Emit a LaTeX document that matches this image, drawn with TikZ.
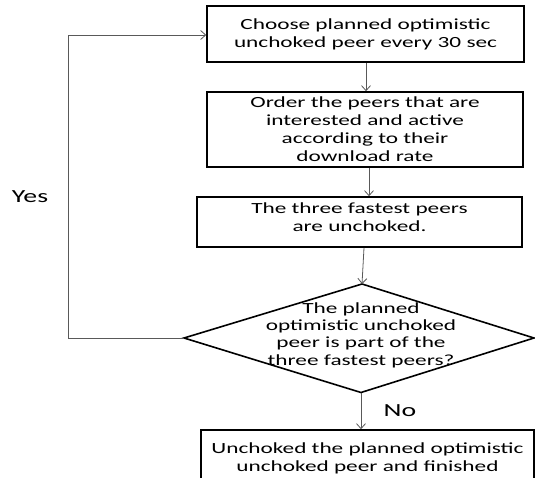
\documentclass[tikz,border=0pt]{standalone}
\usepackage{fontspec}
\setmainfont{Carlito}[FakeStretch=1.5]
\usetikzlibrary{arrows.meta}
\begin{document}
\begin{tikzpicture}[x=1pt,y=-1pt,
  box/.style={draw=black,line width=1.6pt,rectangle,inner sep=0pt,align=center,font=\fontsize{15.5}{18}\selectfont},
  conn/.style={draw=black!65,line width=0.8pt,-{Straight Barb[length=5pt,width=9pt,line width=0.8pt]}},
  lbl/.style={font=\fontsize{18.5}{20}\selectfont}]
\useasboundingbox (0,0) rectangle (535,478);
\node[box,minimum width=317pt,minimum height=56pt] (b1) at (365.5,34) {Choose planned optimistic\\unchoked peer every 30 sec};
\node[box,minimum width=316pt,minimum height=75pt] (b2) at (365,129.5) {Order the peers that are\\interested and active\\according to their\\download rate};
\node[box,minimum width=325pt,minimum height=50pt] (b3) at (359.5,222) {The three fastest peers\\are unchoked.\\[-8pt]};
\coordinate (dt) at (362,284);
\coordinate (dl) at (184,338);
\coordinate (dr) at (534,338);
\coordinate (db) at (361,392.5);
\draw[line width=1.6pt,line join=miter] (dt) -- (dr) -- (db) -- (dl) -- cycle;
\node[align=center,font=\fontsize{15.5}{17.3}\selectfont,inner sep=0pt] (dtext) at (361,335) {The planned\\optimistic unchoked\\peer is part of the\\three fastest peers?};
\node[box,minimum width=333pt,minimum height=56pt] (b4) at (367.5,458) {Unchoked the planned optimistic\\unchoked peer and finished};
\coordinate (lc) at (68,338);
\coordinate (tc) at (68,35);
\node[lbl] (yes) at (30,197) {Yes};
\node[lbl] (no) at (400,411) {No};
\draw[conn] (b1.south -| 366,0) -- (b2.north -| 366,0);
\draw[conn] (b2.south -| 369,0) -- (b3.north -| 369,0);
\draw[conn] (b3.south -| 364,0) -- (dt);
\draw[conn] (db) -- (b4.north -| db);
\draw[conn] (dl) -- (lc) -- (tc) -- (tc -| b1.west);
\end{tikzpicture}
\end{document}
